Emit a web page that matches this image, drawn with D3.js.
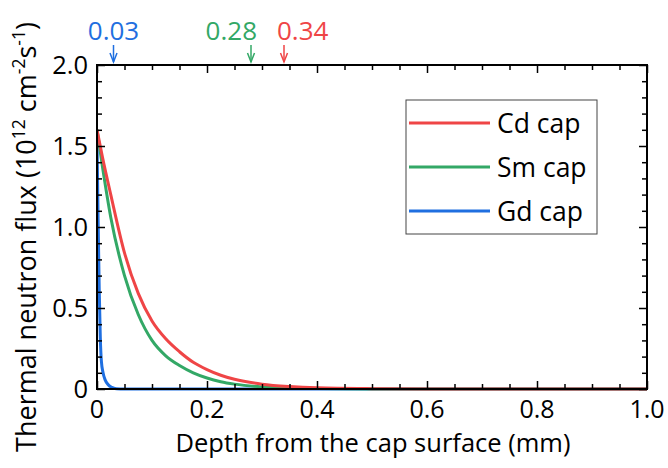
<!DOCTYPE html>
<html>
<head>
<meta charset="utf-8">
<script src="https://cdn.jsdelivr.net/npm/d3@7"></script>
<style>
  html, body { margin: 0; padding: 0; background: #fff; }
  svg { display: block; font-family: "Open Sans", "Noto Sans", sans-serif; }
</style>
</head>
<body>
<svg id="chart" width="668" height="468"></svg>
<script>
// ---- data ----
const seriesNames = ["Cd cap", "Sm cap", "Gd cap"];
const seriesColors = ["#ef4546", "#33a866", "#1f6fe0"];

const depthCd = [0, 0.01, 0.025, 0.05, 0.075, 0.1, 0.125, 0.15, 0.175, 0.2, 0.225, 0.25, 0.3, 0.35, 0.4, 0.5, 0.6, 0.8, 1.0];
const fluxCd  = [1.60, 1.43, 1.20, 0.84, 0.59, 0.42, 0.31, 0.23, 0.165, 0.12, 0.085, 0.06, 0.03, 0.015, 0.007, 0.002, 0.0005, 0, 0];

const depthSm = [0, 0.01, 0.025, 0.05, 0.075, 0.1, 0.125, 0.15, 0.175, 0.2, 0.225, 0.25, 0.3, 0.35, 0.4, 0.5, 0.6, 0.8, 1.0];
const fluxSm  = [1.60, 1.37, 1.06, 0.70, 0.46, 0.30, 0.205, 0.145, 0.10, 0.068, 0.045, 0.03, 0.013, 0.006, 0.003, 0.0005, 0, 0, 0];

const depthGd = [0, 0.002, 0.004, 0.006, 0.008, 0.011, 0.015, 0.02, 0.027, 0.035, 0.05, 0.2, 0.5, 1.0];
const fluxGd  = [1.55, 1.05, 0.62, 0.32, 0.17, 0.10, 0.055, 0.028, 0.01, 0.002, 0, 0, 0, 0];

const markValues = [0.03, 0.28, 0.34];
const markLabels = ["0.03", "0.28", "0.34"];

const xTickValues = [0, 0.2, 0.4, 0.6, 0.8, 1.0];
const xTickLabels = ["0", "0.2", "0.4", "0.6", "0.8", "1.0"];
const yTickValues = [0, 0.5, 1.0, 1.5, 2.0];
const yTickLabels = ["0", "0.5", "1.0", "1.5", "2.0"];

// ---- layout ----
const svg = d3.select("#chart");
const L = 97, R = 647, T = 65, B = 389;
const x = d3.scaleLinear().domain([0, 1]).range([L, R]);
const y = d3.scaleLinear().domain([0, 2]).range([B, T]);

const series = [
  {name: seriesNames[0], color: seriesColors[0], xs: depthCd, ys: fluxCd},
  {name: seriesNames[1], color: seriesColors[1], xs: depthSm, ys: fluxSm},
  {name: seriesNames[2], color: seriesColors[2], xs: depthGd, ys: fluxGd}
];

svg.append("defs").append("clipPath").attr("id", "clip")
  .append("rect").attr("x", L).attr("y", T - 2).attr("width", R - L).attr("height", B - T + 4);

// curves
const line = d3.line().x(d => x(d[0])).y(d => y(d[1])).curve(d3.curveMonotoneX);
const g = svg.append("g").attr("clip-path", "url(#clip)");
[series[2], series[1], series[0]].forEach(s => {
  g.append("path")
    .attr("d", line(s.xs.map((v, i) => [v, s.ys[i]])))
    .attr("fill", "none").attr("stroke", s.color).attr("stroke-width", 3)
    .attr("stroke-linejoin", "round");
});

// axes with inward ticks
const xMinor = d3.range(0, 1.0001, 0.05).filter(v => Math.abs(v / 0.2 - Math.round(v / 0.2)) > 1e-6);
const yMinor = d3.range(0, 2.0001, 0.1).filter(v => Math.abs(v / 0.5 - Math.round(v / 0.5)) > 1e-6);

function tickAxis(axisFn, scale, vals, size, transform) {
  const a = axisFn(scale).tickValues(vals).tickSize(size).tickFormat("");
  const gg = svg.append("g").attr("transform", transform).call(a);
  gg.select(".domain").remove();
  gg.selectAll("line").attr("stroke", "#000").attr("stroke-width", 1.5);
  return gg;
}
tickAxis(d3.axisTop, x, xTickValues, 8, `translate(0,${B})`);
tickAxis(d3.axisTop, x, xMinor, 5, `translate(0,${B})`);
tickAxis(d3.axisBottom, x, xTickValues, 8, `translate(0,${T})`);
tickAxis(d3.axisBottom, x, xMinor, 5, `translate(0,${T})`);
tickAxis(d3.axisRight, y, yTickValues, 8, `translate(${L},0)`);
tickAxis(d3.axisRight, y, yMinor, 5, `translate(${L},0)`);
tickAxis(d3.axisLeft, y, yTickValues, 8, `translate(${R},0)`);
tickAxis(d3.axisLeft, y, yMinor, 5, `translate(${R},0)`);

// frame
svg.append("rect").attr("x", L).attr("y", T).attr("width", R - L).attr("height", B - T)
  .attr("fill", "none").attr("stroke", "#000").attr("stroke-width", 2);

// tick labels
svg.append("g").selectAll("text").data(xTickValues).join("text")
  .attr("x", d => x(d)).attr("y", 418)
  .attr("text-anchor", "middle").attr("font-size", 25).attr("fill", "#000")
  .text((d, i) => xTickLabels[i]);
svg.append("g").selectAll("text").data(yTickValues).join("text")
  .attr("x", 88).attr("y", d => y(d) + 9)
  .attr("text-anchor", "end").attr("font-size", 25.5).attr("fill", "#000")
  .text((d, i) => yTickLabels[i]);

// axis titles
svg.append("text").attr("x", 373).attr("y", 452)
  .attr("text-anchor", "middle").attr("font-size", 25.5).attr("fill", "#000")
  .text("Depth from the cap surface (mm)");

const yt = svg.append("text").attr("transform", "translate(36,237) rotate(-90)")
  .attr("text-anchor", "middle").attr("font-size", 27).attr("fill", "#000");
yt.append("tspan").text("Thermal neutron flux (10");
yt.append("tspan").attr("dy", -11).attr("font-size", 17.5).text("12");
yt.append("tspan").attr("dy", 11).text(" cm");
yt.append("tspan").attr("dy", -11).attr("font-size", 17.5).text("-2");
yt.append("tspan").attr("dy", 11).text("s");
yt.append("tspan").attr("dy", -11).attr("font-size", 17.5).text("-1");
yt.append("tspan").attr("dy", 11).text(")");

// legend
const lg = svg.append("g");
lg.append("rect").attr("x", 406).attr("y", 100).attr("width", 191).attr("height", 134)
  .attr("fill", "#fff").attr("stroke", "#444").attr("stroke-width", 1);
series.forEach((s, i) => {
  const ly = 123 + i * 44;
  lg.append("line").attr("x1", 409).attr("x2", 490).attr("y1", ly).attr("y2", ly)
    .attr("stroke", s.color).attr("stroke-width", 3);
  lg.append("text").attr("x", 497).attr("y", ly + 9.5).attr("font-size", 26.5).attr("fill", "#000")
    .text(s.name);
});

// top annotations with arrows
const markColors = [seriesColors[2], seriesColors[1], seriesColors[0]];
const markAnchors = ["middle", "end", "start"];
const markDx = [0, 6, -7];
markValues.forEach((v, i) => {
  const px = x(v);
  const c = markColors[i];
  svg.append("line").attr("x1", px).attr("x2", px).attr("y1", 45).attr("y2", 62)
    .attr("stroke", c).attr("stroke-width", 1.5);
  svg.append("path").attr("d", `M${px - 3.5},53 L${px},62 L${px + 3.5},53`)
    .attr("fill", "none").attr("stroke", c).attr("stroke-width", 1.5);
  svg.append("text").attr("x", px + markDx[i]).attr("y", 40)
    .attr("text-anchor", markAnchors[i]).attr("font-size", 26).attr("fill", c)
    .text(markLabels[i]);
});
</script>
</body>
</html>
